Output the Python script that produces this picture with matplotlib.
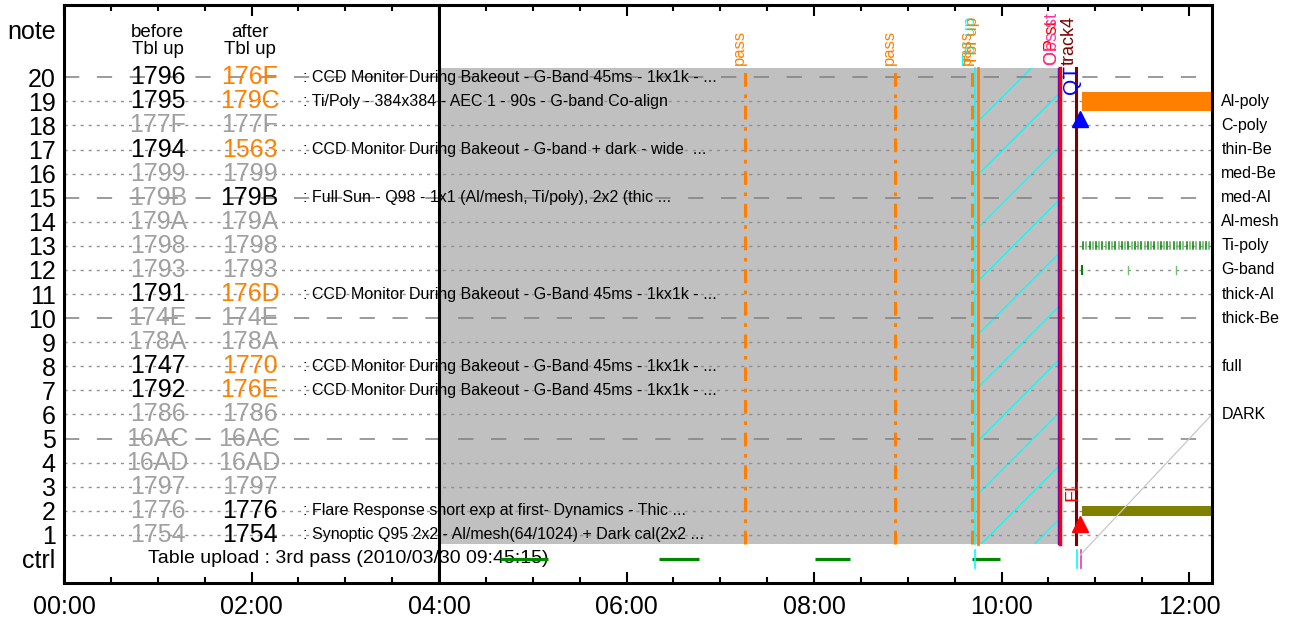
import numpy as np
import matplotlib
matplotlib.use('Agg')
import matplotlib.pyplot as plt
from matplotlib.patches import Rectangle
from matplotlib.ticker import MultipleLocator, FuncFormatter

plt.rcParams['font.family'] = ['Liberation Sans', 'DejaVu Sans']

# Program rows (20 at top, 1 at bottom)
rows = list(range(20, 0, -1))
before_ids = ['1796', '1795', '177F', '1794', '1799', '179B', '179A', '1798', '1793', '1791',
              '174E', '178A', '1747', '1792', '1786', '16AC', '16AD', '1797', '1776', '1754']
before_state = ['k', 'k', 'g', 'k', 'g', 'g', 'g', 'g', 'g', 'k',
                'g', 'g', 'k', 'k', 'g', 'g', 'g', 'g', 'g', 'g']
after_ids = ['176F', '179C', '177F', '1563', '1799', '179B', '179A', '1798', '1793', '176D',
             '174E', '178A', '1770', '176E', '1786', '16AC', '16AD', '1797', '1776', '1754']
after_state = ['o', 'o', 'g', 'o', 'g', 'k', 'g', 'g', 'g', 'o',
               'g', 'g', 'o', 'o', 'g', 'g', 'g', 'g', 'k', 'k']
descriptions = [
    ': CCD Monitor During Bakeout - G-Band 45ms - 1kx1k - ...',
    ': Ti/Poly - 384x384 - AEC 1 - 90s - G-band Co-align',
    '',
    ': CCD Monitor During Bakeout - G-band + dark - wide  ...',
    '',
    ': Full Sun - Q98 - 1x1 (Al/mesh, Ti/poly), 2x2 (thic ...',
    '', '', '',
    ': CCD Monitor During Bakeout - G-Band 45ms - 1kx1k - ...',
    '', '',
    ': CCD Monitor During Bakeout - G-Band 45ms - 1kx1k - ...',
    ': CCD Monitor During Bakeout - G-Band 45ms - 1kx1k - ...',
    '', '', '', '',
    ': Flare Response short exp at first- Dynamics - Thic ...',
    ': Synoptic Q95 2x2 - Al/mesh(64/1024) + Dark cal(2x2 ...',
]
ctrl_text = 'Table upload : 3rd pass (2010/03/30 09:45:15)'

# Filter labels on the right
filter_labels = ['Al-poly', 'C-poly', 'thin-Be', 'med-Be', 'med-Al', 'Al-mesh',
                 'Ti-poly', 'G-band', 'thick-Al', 'thick-Be', 'full', 'DARK']
filter_rows = [19, 18, 17, 16, 15, 14, 13, 12, 11, 10, 8, 6]

# Times in hours
t_start, t_end = 0.0, 12.245
table_up_time = 4.0
busy_start, busy_end = 4.0, 10.6
pass_times = [7.264, 8.864, 9.69]
tblup_cyan_time = 9.72
tblup_orange_time = 9.75
obs_st_time = 10.6
op_st_time = 10.625
track4_time = 10.795
qt_time, qt_row = 10.84, 18.25
fl_time, fl_row = 10.84, 1.45

ctrl_segments = [(4.65, 5.16), (6.35, 6.77), (8.01, 8.38), (9.69, 9.98)]
ctrl_ticks_cyan = [9.72, 10.80]
ctrl_ticks_pink = [10.85]

alpoly_start = 10.86
dark_start = 10.86
tipoly_times = [10.870, 10.905, 10.939, 10.974, 11.008, 11.043, 11.077, 11.112, 11.146, 11.181,
                11.215, 11.250, 11.284, 11.319, 11.353, 11.388, 11.422, 11.457, 11.491, 11.526,
                11.560, 11.595, 11.629, 11.664, 11.698, 11.733, 11.767, 11.802, 11.836, 11.871,
                11.905, 11.940, 11.974, 12.009, 12.043, 12.078, 12.112, 12.147, 12.181, 12.216]
gband_times = [10.86, 11.35, 11.86]
trend_x = [10.84, 11.35, 11.37, 11.86, 11.88, 12.245]
trend_y = [0.16, 2.28, 2.36, 4.40, 4.48, 6.0]

colors = {'k': 'black', 'g': '#a0a0a0', 'o': '#ff8000'}
ORANGE = '#ff8000'

fig = plt.figure(figsize=(12.96, 6.25), dpi=100)
ax = fig.add_axes([64 / 1296, 42 / 625, 1148 / 1296, 578 / 625])
ax.set_xlim(t_start, t_end)
ax.set_ylim(-1, 23)

# gray busy region
ax.add_patch(Rectangle((busy_start, 0.6), busy_end - busy_start, 20.37 - 0.6,
                       facecolor='#c0c0c0', edgecolor='none', zorder=1))

# cyan diagonal lines between table upload and obs start
hatch_box = Rectangle((tblup_orange_time, 0.6), busy_end - tblup_orange_time, 20.37 - 0.6,
                      facecolor='none', edgecolor='none', transform=ax.transData)
ax.add_patch(hatch_box)
slope = (1148 / (t_end - t_start)) / (578 / 24.0)
for k in range(-1, 11):
    y0 = 18.17 - 2.21 * k
    xs = np.array([tblup_orange_time, busy_end])
    ln, = ax.plot(xs, y0 + slope * (xs - tblup_orange_time), color='cyan', lw=0.9, zorder=2)
    ln.set_clip_path(hatch_box)

# row grid lines
for r in rows:
    if r % 5 == 0:
        ax.axhline(r, color='#808080', lw=1.1, dashes=(10, 11.5), zorder=3)
    else:
        ax.axhline(r, color='#909090', lw=1.0, dashes=(2.2, 3.6), zorder=3)

# program ids and descriptions
ax.text(1.0, 21.5, 'before\nTbl up', ha='center', va='center', fontsize=13.5, linespacing=0.95)
ax.text(1.98, 21.5, 'after\nTbl up', ha='center', va='center', fontsize=13.5, linespacing=0.95)
for r, b, bs, a, as_, d in zip(rows, before_ids, before_state, after_ids, after_state, descriptions):
    ax.text(1.0, r, b, color=colors[bs], ha='center', va='center', fontsize=18, zorder=4)
    ax.text(1.98, r, a, color=colors[as_], ha='center', va='center', fontsize=18, zorder=4)
    if d:
        ax.text(2.55, r, d, ha='left', va='center', fontsize=11.5, zorder=4)
ax.text(0.9, 0, ctrl_text, ha='left', va='center', fontsize=14, zorder=4)

# ctrl row
for s, e in ctrl_segments:
    ax.plot([s, e], [0, 0], color='#008800', lw=2.3, zorder=5, solid_capstyle='butt')
for t in ctrl_ticks_cyan:
    ax.plot([t, t], [-0.38, 0.38], color='cyan', lw=1.2, zorder=5)
for t in ctrl_ticks_pink:
    ax.plot([t, t], [-0.38, 0.38], color='#ff3399', lw=1.2, zorder=5)

# vertical event lines
for t in pass_times:
    ax.plot([t, t], [0.6, 20.37], color=ORANGE, lw=2.2, dashes=(4.5, 2.5, 1.2, 2.5), zorder=5)
    ax.text(t + 0.02, 20.5, 'pass', color=ORANGE, rotation=90, ha='right', va='bottom', fontsize=12)
ax.plot([tblup_cyan_time] * 2, [0.6, 20.37], color='cyan', lw=1.2, zorder=5)
ax.plot([tblup_orange_time] * 2, [0.6, 20.37], color=ORANGE, lw=2.0, zorder=5)
ax.text(tblup_cyan_time + 0.03, 20.5, 'Tbl up', color='cyan', rotation=90, ha='right', va='bottom', fontsize=12.5)
ax.text(tblup_orange_time + 0.02, 20.5, 'Tbl up', color=ORANGE, rotation=90, ha='right', va='bottom', fontsize=12.5)
ax.plot([obs_st_time] * 2, [0.6, 20.37], color='#8000a0', lw=1.0, zorder=6)
ax.plot([op_st_time] * 2, [0.6, 20.37], color='red', lw=2.5, zorder=5)
ax.text(op_st_time + 0.01, 20.5, 'OP st', color='red', rotation=90, ha='right', va='bottom', fontsize=13)
ax.text(op_st_time + 0.01, 20.5, 'Obs st', color='#ff3399', rotation=90, ha='right', va='bottom', fontsize=13)
ax.plot([track4_time] * 2, [0.6, 20.37], color='#800000', lw=2.2, zorder=5)
ax.text(track4_time + 0.02, 20.5, 'track4', color='#800000', rotation=90, ha='right', va='bottom', fontsize=13)

# QT / FL markers
ax.plot(qt_time, qt_row, marker='^', color='blue', ms=12, zorder=7)
ax.text(10.85, 19.3, 'QT', color='blue', rotation=90, ha='right', va='bottom', fontsize=15, zorder=9)
ax.plot(fl_time, fl_row, marker='^', color='red', ms=12, zorder=7)
ax.text(10.85, 2.4, 'FL', color='red', rotation=90, ha='right', va='bottom', fontsize=14, zorder=9)

# filter activity
ax.add_patch(Rectangle((alpoly_start, 18.6), t_end - alpoly_start, 0.8, facecolor=ORANGE,
                       edgecolor='none', zorder=6))
ax.add_patch(Rectangle((dark_start, 1.8), t_end - dark_start, 0.4, facecolor='#808000',
                       edgecolor='none', zorder=6))
for i, t in enumerate(tipoly_times):
    ax.plot([t, t], [12.85, 13.15], color='#008000' if i % 2 == 0 else '#60b860', lw=1.1, zorder=6)
for i, t in enumerate(gband_times):
    ax.plot([t, t], [11.85, 12.15], color='#008000' if i == 0 else '#70c070', lw=1.5 if i == 0 else 1.0, zorder=6)
ax.plot(trend_x, trend_y, color='#c8c8c8', lw=0.9, zorder=6)

for lab, r in zip(filter_labels, filter_rows):
    ax.text(t_end + 0.1, r, lab, ha='left', va='center', fontsize=11.5, clip_on=False)

# table upload line
ax.axvline(table_up_time, color='black', lw=2.2, zorder=8)

# axes
ax.set_yticks([0] + rows + [22])
ax.set_yticklabels(['ctrl'] + [str(r) for r in rows] + ['note'], fontsize=18)
ax.tick_params(axis='y', length=0, pad=6)
ax.xaxis.set_major_locator(MultipleLocator(2))
ax.xaxis.set_minor_locator(MultipleLocator(0.5))
ax.xaxis.set_major_formatter(FuncFormatter(lambda v, p: '%02d:00' % int(round(v))))
ax.tick_params(axis='x', which='both', direction='in', top=True, labelsize=18, pad=9, width=1.5)
ax.tick_params(axis='x', which='major', length=8)
ax.tick_params(axis='x', which='minor', length=4)
for sp in ax.spines.values():
    sp.set_linewidth(2.2)
    sp.set_zorder(10)

fig.savefig('out.png', dpi=100)
